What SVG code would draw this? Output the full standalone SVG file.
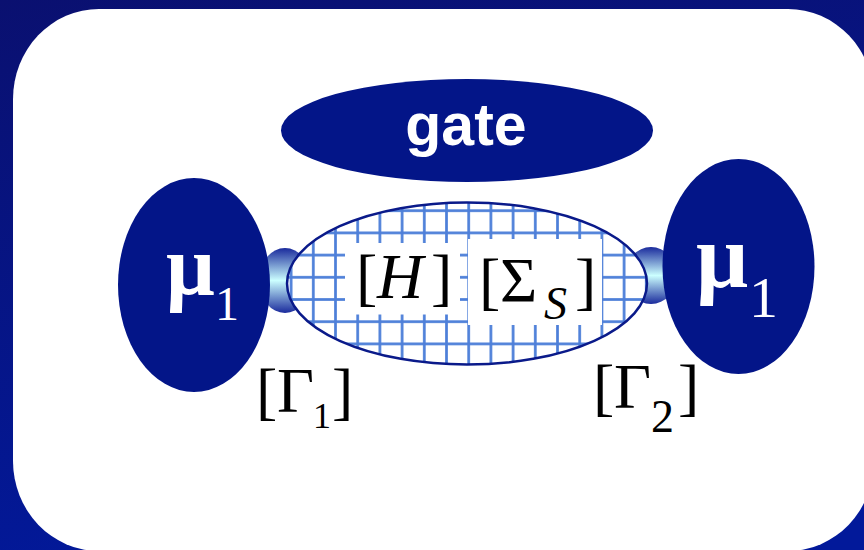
<svg xmlns="http://www.w3.org/2000/svg" width="864" height="550" viewBox="0 0 864 550">
  <defs>
    <linearGradient id="bg" x1="0" y1="0" x2="0.3" y2="1">
      <stop offset="0" stop-color="#0a1070"/>
      <stop offset="1" stop-color="#02199a"/>
    </linearGradient>
    <linearGradient id="tube" x1="0" y1="0" x2="0" y2="1">
      <stop offset="0" stop-color="#1a2a9c"/>
      <stop offset="0.5" stop-color="#ccffff"/>
      <stop offset="1" stop-color="#1a2a9c"/>
    </linearGradient>
    <pattern id="grid" patternUnits="userSpaceOnUse" x="302.2" y="199.6" width="22.2" height="22.2">
      <rect width="22.2" height="22.2" fill="#ffffff"/>
      <rect x="9.75" y="0" width="2.7" height="22.2" fill="#4d7fd9"/>
      <rect x="0" y="9.75" width="22.2" height="2.7" fill="#4d7fd9"/>
    </pattern>
    <clipPath id="clipC">
      <ellipse cx="467" cy="283.5" rx="180" ry="81"/>
    </clipPath>
  </defs>
  <style>
    .node { fill: #031588; }
    .wt { fill: #ffffff; font-family: "Liberation Serif", "Times New Roman", serif; }
    .bk { fill: #000000; font-family: "Liberation Serif", "Times New Roman", serif; }
    .gate { fill: #ffffff; font-family: "Liberation Sans", Arial, sans-serif; font-weight: bold; }
  </style>

  <rect x="0" y="0" width="864" height="550" fill="url(#bg)"/>
  <rect x="13" y="9" width="861" height="542" rx="86" ry="90" fill="#ffffff"/>

  <g id="connectors">
    <ellipse cx="285" cy="280.5" rx="26" ry="32.5" fill="url(#tube)"/>
    <ellipse cx="651" cy="275.5" rx="26" ry="28.5" fill="url(#tube)"/>
  </g>

  <g id="gate">
    <ellipse class="node" cx="467" cy="130.5" rx="186" ry="51.5"/>
    <text class="gate" x="466" y="145" font-size="59" text-anchor="middle">gate</text>
  </g>

  <g id="device">
    <ellipse cx="467" cy="283.5" rx="180" ry="81" fill="url(#grid)"/>
    <g clip-path="url(#clipC)">
      <rect x="345" y="243" width="115" height="71.5" fill="#ffffff"/>
      <rect x="468" y="239" width="134" height="86" fill="#ffffff"/>
    </g>
    <ellipse cx="467" cy="283.5" rx="180" ry="81" fill="none" stroke="#0a1a8a" stroke-width="2.5"/>
    <text class="bk" y="298" font-size="64"><tspan x="356">[</tspan><tspan x="377" font-style="italic">H</tspan><tspan x="431">]</tspan></text>
    <text class="bk" y="302" font-size="64"><tspan x="479">[</tspan><tspan x="500">Σ</tspan><tspan x="544" y="319" font-size="46" font-style="italic">S</tspan><tspan x="575" y="302">]</tspan></text>
  </g>

  <g id="lead-left">
    <ellipse class="node" cx="194" cy="285" rx="76" ry="107"/>
    <text class="wt" y="294" font-size="86" font-weight="bold"><tspan x="166">μ</tspan><tspan x="215" y="320" font-size="48" font-weight="normal">1</tspan></text>
  </g>

  <g id="lead-right">
    <ellipse class="node" cx="738.5" cy="266.5" rx="76" ry="107.5"/>
    <text class="wt" y="287" font-size="92" font-weight="bold"><tspan x="696">μ</tspan><tspan x="749" y="317" font-size="58" font-weight="normal">1</tspan></text>
  </g>

  <g id="gamma1">
    <text class="bk" y="412" font-size="64"><tspan x="256">[</tspan><tspan x="277">Γ</tspan></text>
    <text class="bk" y="428" font-size="36"><tspan x="313">1</tspan></text>
    <text class="bk" y="412" font-size="64"><tspan x="332">]</tspan></text>
  </g>

  <g id="gamma2">
    <text class="bk" y="408" font-size="64"><tspan x="593">[</tspan><tspan x="614">Γ</tspan></text>
    <text class="bk" y="432" font-size="46"><tspan x="651">2</tspan></text>
    <text class="bk" y="408" font-size="64"><tspan x="678">]</tspan></text>
  </g>
</svg>
